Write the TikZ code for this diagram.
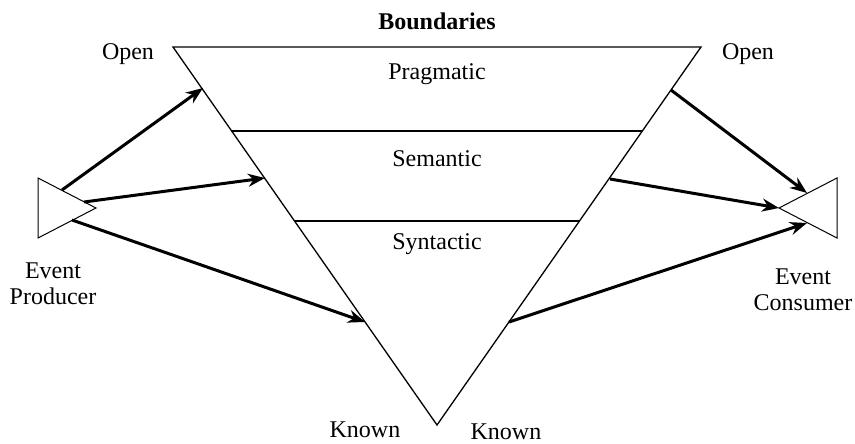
\documentclass[tikz,border=0pt]{standalone}
\usepackage{fontspec}
\setmainfont{Liberation Serif}
\usetikzlibrary{arrows.meta}
\tikzset{lbl/.style={inner sep=0pt,align=center,font=\fontsize{24}{26}\selectfont}}
\begin{document}
\begin{tikzpicture}[x=1pt,y=-1pt, >={Stealth[length=17pt,width=13pt]}, thick arrow/.style={->,line width=3pt}]
			\useasboundingbox (0,0) rectangle (855,444);
			% funnel of boundaries
			\coordinate (TL) at (173,47); \coordinate (TR) at (701,47); \coordinate (Ap) at (437,425);
			\draw[line width=1.3pt] (TL) -- (TR) -- (Ap) -- cycle;
			\coordinate (PL) at (232,131); \coordinate (PR) at (642,131);
			\coordinate (SL) at (295,221); \coordinate (SR) at (580,221);
			\draw[line width=1.3pt] (PL) -- (PR) (SL) -- (SR);
			% producer and consumer
			\coordinate (Pa) at (38,178); \coordinate (Pb) at (38,238); \coordinate (Pt) at (96,208);
			\coordinate (Ca) at (837,178); \coordinate (Cb) at (837,238); \coordinate (Ct) at (779,208);
			\draw[line width=1pt] (Pa) -- (Pt) -- (Pb) -- cycle (Ca) -- (Ct) -- (Cb) -- cycle;
			% arrows
			\coordinate (p1) at (62,190); \coordinate (p2) at (84,202); \coordinate (p3) at (72,220);
			\coordinate (l1) at (203,88); \coordinate (l2) at (265,178); \coordinate (l3) at (365,322);
			\coordinate (r1) at (671,90); \coordinate (r2) at (610,179); \coordinate (r3) at (509,322);
			\coordinate (c1) at (807,193); \coordinate (c3) at (807,223);
			\draw[thick arrow] (p1) -- (l1);
			\draw[thick arrow] (p2) -- (l2);
			\draw[thick arrow] (p3) -- (l3);
			\draw[thick arrow] (r1) -- (c1);
			\draw[thick arrow] (r2) -- (Ct);
			\draw[thick arrow] (r3) -- (c3);
			% labels
			\node[lbl,font=\fontsize{24}{26}\selectfont\bfseries] (bnd) at (437,21) {Boundaries};
			\node[lbl] (prag) at (437,74) {Pragmatic};
			\node[lbl] (sem) at (437,159) {Semantic};
			\node[lbl] (syn) at (437,244) {Syntactic};
			\node[lbl] (openl) at (128,54) {Open};
			\node[lbl] (openr) at (748,54) {Open};
			\node[lbl] (prod) at (53,284) {Event\\Producer};
			\node[lbl] (cons) at (803,290) {Event\\Consumer};
			\node[lbl] (knl) at (365,430) {Known};
			\node[lbl] (knr) at (506,432) {Known};
		\end{tikzpicture}
\end{document}
